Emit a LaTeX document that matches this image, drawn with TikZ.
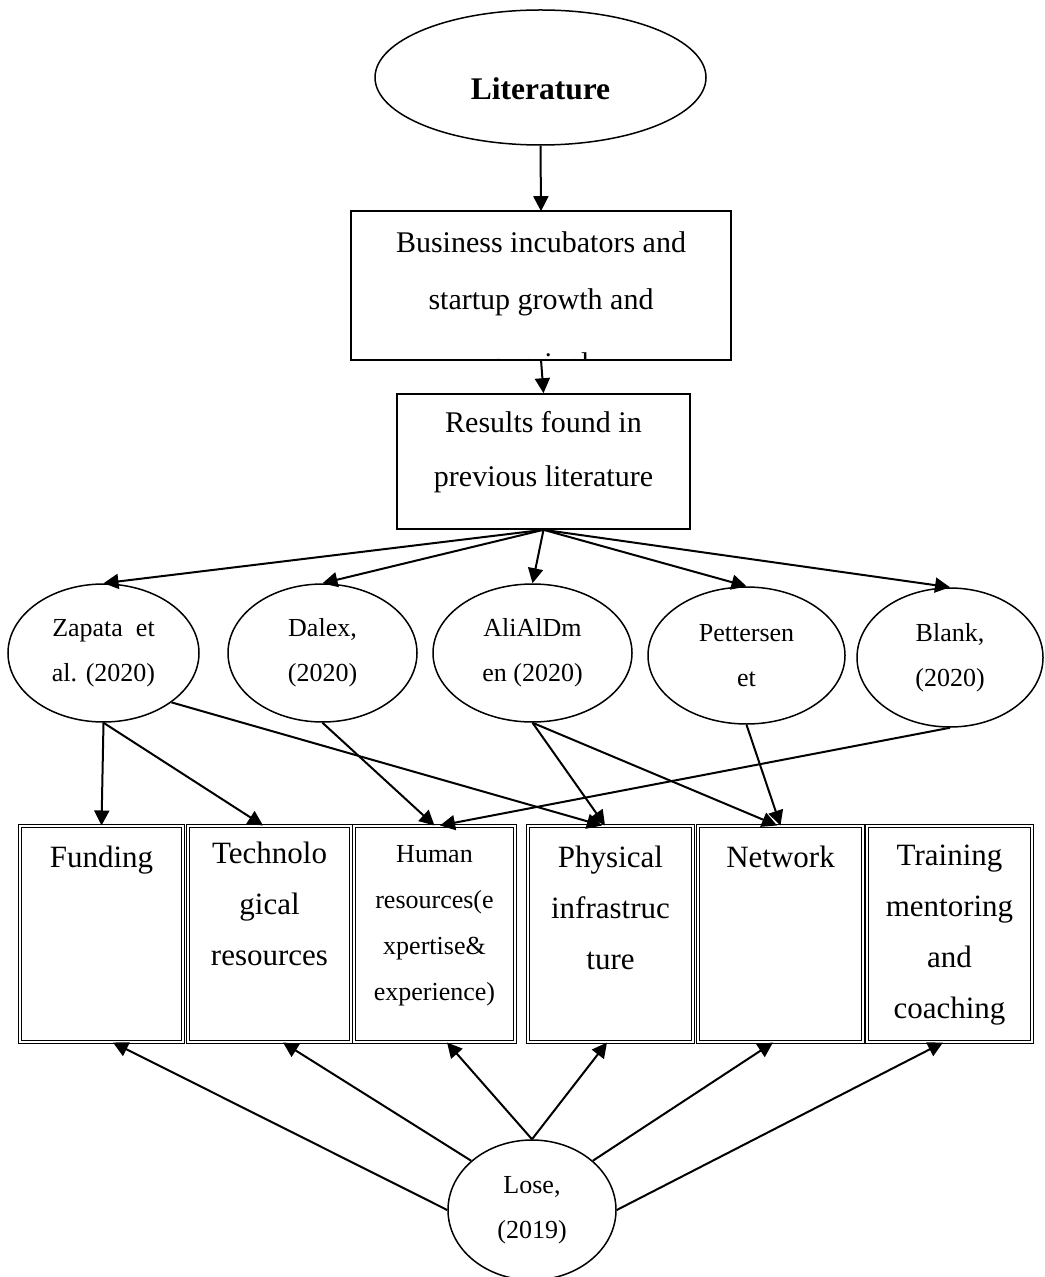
\documentclass[tikz,border=0pt]{standalone}
\usepackage{fontspec}
\setmainfont{Liberation Serif}
\usetikzlibrary{arrows.meta,
                positioning,
                shapes.geometric}
\newcommand{\celltext}[4]{\parbox[c][#1][t]{#2}{\centering\rule{0pt}{#3}#4}}
\tikzset{
    oval/.style={draw, ellipse, align=center, inner sep=0pt, line width=0.75pt,
                 font=\fontsize{13}{22.5}\selectfont},
    headbox/.style={rectangle, inner sep=0pt, line width=0.8pt,
                    font=\fontsize{15}{28.5}\selectfont},
    resbox/.style={headbox, draw, font=\fontsize{15}{27}\selectfont},
    cellbox/.style={draw, rectangle, inner sep=0pt, double, line width=0.5pt,
                    double distance=0.8pt, font=\fontsize{15.5}{25.5}\selectfont},
    smallcell/.style={cellbox, font=\fontsize{13}{23}\selectfont},
    myarrow/.style={-{Triangle[length=7.5pt,width=7.5pt]}, line width=1pt},
}
\begin{document}
\begin{tikzpicture}[x=0.5pt, y=-0.5pt]
    \useasboundingbox (0,0) rectangle (1044,1277);

    \node[oval, minimum width=165.5pt, minimum height=67.5pt,
          font=\fontsize{15.75}{18}\selectfont\bfseries,
          text height=22.5pt, text depth=0pt] (lit) at (540.5,77.5) {Literature};

    \begin{scope}
        \clip (352,212) rectangle (730,359);
        \node[headbox] (biz) at (541,285.5)
            {\celltext{73.5pt}{189pt}{20.5pt}{Business incubators and\\startup growth and\\[3.5pt]survival}};
    \end{scope}
    \draw[line width=0.8pt] (biz.north west) rectangle (biz.south east);

    \node[resbox] (res) at (543.5,461.5)
        {\celltext{67.5pt}{146.5pt}{19.5pt}{Results found in\\previous literature}};

    \node[oval, minimum width=95.5pt, minimum height=69pt] (zap) at (103.5,653) {Zapata~ et\\al. (2020)};
    \node[oval, minimum width=94.5pt, minimum height=69pt] (dal) at (322.5,653) {Dalex,\\(2020)};
    \node[oval, minimum width=99.5pt, minimum height=69pt] (ali) at (532.5,653) {AliAlDm\\en (2020)};
    \node[oval, minimum width=98.5pt, minimum height=68.5pt] (pet) at (746.5,655.5) {Pettersen\\et};
    \node[oval, minimum width=93pt, minimum height=69.5pt] (bla) at (950,657.5) {Blank,\\(2020)};

    \node[cellbox] (fund) at (101.5,934) {\celltext{108pt}{81.5pt}{20.5pt}{Funding}};
    \node[cellbox] (tech) at (269.5,934) {\celltext{108pt}{81.5pt}{18.5pt}{Technolo\\gical\\resources}};
    \node[smallcell] (hum) at (434.5,934) {\celltext{108pt}{80.5pt}{18pt}{Human\\resources(e\\xpertise\&\\experience)}};
    \node[cellbox] (phy) at (610.5,934) {\celltext{108pt}{82.5pt}{20.5pt}{Physical\\infrastruc\\ture}};
    \node[cellbox] (net) at (780.5,934) {\celltext{108pt}{82.5pt}{20.5pt}{Network}};
    \node[cellbox] (tra) at (949.5,934) {\celltext{108pt}{82.5pt}{19.5pt}{Training\\mentoring\\and\\coaching}};

    \node[oval, minimum width=84pt, minimum height=70pt] (lose) at (532,1210) {Lose,\\(2019)};

    \draw[myarrow] (lit.south) -- (biz.north);
    \draw[myarrow] (biz.south) -- (res.north);

    \foreach \e in {zap, dal, ali, pet, bla}
        \draw[myarrow] (res.south) -- (\e.north);

    \draw[myarrow] (zap.south) -- (fund.north);
    \draw[myarrow] (zap.south) -- ([xshift=-3.25pt]tech.north);
    \draw[myarrow] (zap.-36) -- ([xshift=-4.25pt]phy.north);
    \draw[myarrow] (dal.south) -- (hum.north);
    \draw[myarrow] (ali.south) -- ([xshift=-2.75pt]phy.north);
    \draw[myarrow] (ali.south) -- ([xshift=-1.75pt]net.north);
    \draw[myarrow] (pet.south) -- (net.north);
    \draw[myarrow] (bla.south) -- ([xshift=2.75pt]hum.north);

    \draw[myarrow] (lose.west) -- ([xshift=5.75pt]fund.south);
    \draw[myarrow] (lose.141) -- ([xshift=6.75pt]tech.south);
    \draw[myarrow] (lose.north) -- ([xshift=6.25pt]hum.south);
    \draw[myarrow] (lose.north) -- ([xshift=-1.75pt]phy.south);
    \draw[myarrow] (lose.39) -- ([xshift=-3.75pt]net.south);
    \draw[myarrow] (lose.east) -- ([xshift=-3.25pt]tra.south);

\end{tikzpicture}
\end{document}
